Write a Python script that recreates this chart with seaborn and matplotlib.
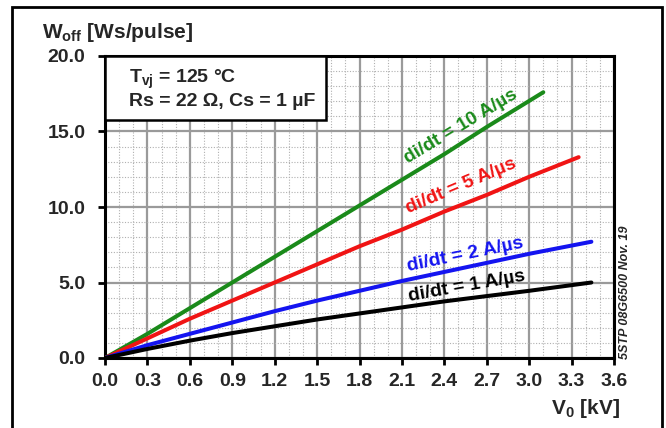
import numpy as np
import pandas as pd
import seaborn as sns
import matplotlib.pyplot as plt
from matplotlib.patches import Rectangle
from matplotlib.ticker import MultipleLocator, FormatStrFormatter

# turn-off energy vs voltage
v_10 = [0.0, 0.3, 0.6, 0.9, 1.2, 1.5, 1.8, 2.1, 2.4, 2.7, 3.1]
w_10 = [0.0, 1.6, 3.3, 5.0, 6.7, 8.4, 10.1, 11.8, 13.5, 15.3, 17.6]
v_5 = [0.0, 0.3, 0.6, 0.9, 1.2, 1.5, 1.8, 2.1, 2.4, 2.7, 3.0, 3.35]
w_5 = [0.0, 1.3, 2.6, 3.8, 5.0, 6.2, 7.4, 8.5, 9.7, 10.8, 12.0, 13.3]
v_2 = [0.0, 0.3, 0.6, 0.9, 1.2, 1.5, 1.8, 2.1, 2.4, 2.7, 3.0, 3.44]
w_2 = [0.0, 0.85, 1.6, 2.35, 3.1, 3.8, 4.45, 5.1, 5.7, 6.3, 6.9, 7.7]
v_1 = [0.0, 0.3, 0.6, 0.9, 1.2, 1.5, 1.8, 2.1, 2.4, 2.7, 3.0, 3.44]
w_1 = [0.0, 0.6, 1.15, 1.65, 2.1, 2.55, 2.95, 3.35, 3.75, 4.1, 4.45, 5.0]

labels = ['di/dt = 10 A/µs', 'di/dt = 5 A/µs', 'di/dt = 2 A/µs', 'di/dt = 1 A/µs']
colors = ['#1a8a1a', '#f01414', '#1414f0', '#000000']

sns.set_style('white')
plt.rcParams['font.family'] = ['Liberation Sans', 'DejaVu Sans']
plt.rcParams['font.weight'] = 'bold'
plt.rcParams['mathtext.fontset'] = 'custom'
plt.rcParams['mathtext.rm'] = 'Liberation Sans:bold'
plt.rcParams['mathtext.it'] = 'Liberation Sans:bold'
plt.rcParams['mathtext.bf'] = 'Liberation Sans:bold'

df = pd.concat([
    pd.DataFrame({'V': v, 'W': w, 'curve': lab})
    for v, w, lab in zip([v_10, v_5, v_2, v_1], [w_10, w_5, w_2, w_1], labels)
])

fig = plt.figure(figsize=(6.66, 4.28), dpi=100)
fig.patch.set_facecolor('white')
ax = fig.add_axes([105/666, 1-358/428, 509/666, 302/428])

sns.lineplot(data=df, x='V', y='W', hue='curve', palette=dict(zip(labels, colors)),
             linewidth=2.9, legend=False, ax=ax, zorder=5)

ax.set_xlim(0, 3.6)
ax.set_ylim(0, 20)
ax.xaxis.set_major_locator(MultipleLocator(0.3))
ax.xaxis.set_minor_locator(MultipleLocator(0.1))
ax.yaxis.set_major_locator(MultipleLocator(5))
ax.yaxis.set_minor_locator(MultipleLocator(1))
ax.xaxis.set_major_formatter(FormatStrFormatter('%.1f'))
ax.yaxis.set_major_formatter(FormatStrFormatter('%.1f'))
ax.grid(which='major', color='#9a9a9a', linewidth=1.6, linestyle='-')
ax.grid(which='minor', color='#b0b0b0', linewidth=0.8, linestyle=(0, (1, 1.5)))
ax.set_axisbelow(True)
for s in ax.spines.values():
    s.set_visible(True)
    s.set_color('black')
    s.set_linewidth(2.2)
ax.tick_params(which='major', direction='out', length=5, width=2, color='black',
               labelsize=14, bottom=True, left=True)
ax.tick_params(axis='x', pad=6)
ax.tick_params(axis='y', pad=9)
ax.tick_params(which='minor', length=0)
ax.set_xlabel('')
ax.set_ylabel('')

# curve labels
pos = [(2.52, 15.3, 31), (2.52, 11.4, 23), (2.55, 6.8, 11.5), (2.56, 4.75, 10)]
for (x, y, r), lab, c in zip(pos, labels, colors):
    ax.text(x, y, lab, color=c, fontsize=13.8, fontweight='bold', rotation=r,
            ha='center', va='center', rotation_mode='anchor', zorder=6)

# condition box
ax.add_patch(Rectangle((0, 1-64/302), 221/509, 64/302, transform=ax.transAxes,
                       facecolor='white', edgecolor='black', linewidth=1.8, zorder=7))
ax.text(24/509, 1-23/302, r'$\mathrm{T_{vj}}$ = 125 °C', transform=ax.transAxes,
        fontsize=14, fontweight='bold', va='center', ha='left', zorder=8)
ax.text(24/509, 1-45/302, 'Rs = 22 Ω, Cs = 1 µF', transform=ax.transAxes,
        fontsize=14, fontweight='bold', va='center', ha='left', zorder=8)

fig.text(42/666, 1-32/428, r'$\mathrm{W_{off}}$ [Ws/pulse]', fontsize=15,
         fontweight='bold', ha='left', va='center')
fig.text(620/666, 1-408/428, r'$\mathrm{V_{0}}$ [kV]', fontsize=15,
         fontweight='bold', ha='right', va='center')
fig.text(625/666, 1-292/428, '5STP 08G6500 Nov. 19', fontsize=9, style='italic',
         fontweight='bold', rotation=90, ha='center', va='center')

fig.patches.append(Rectangle((12/666, -0.1), 650/666, 1.1-7/428, transform=fig.transFigure,
                             facecolor='none', edgecolor='black', linewidth=2))

fig.savefig('out.png', dpi=100)
